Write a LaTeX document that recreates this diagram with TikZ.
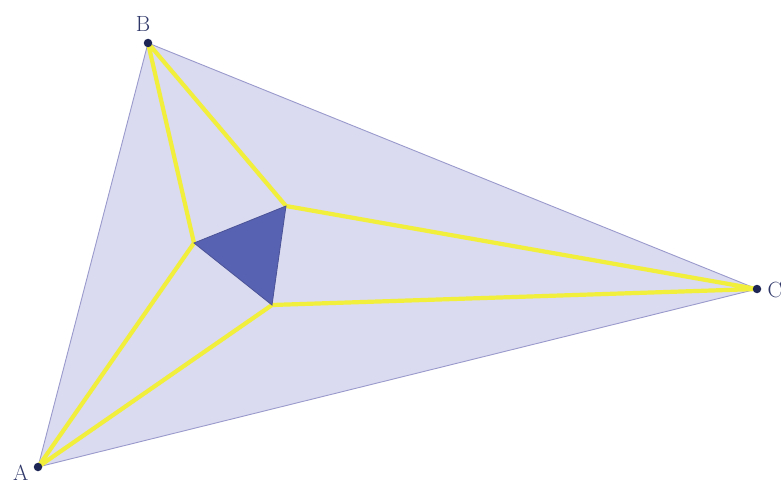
\documentclass[tikz,border=0pt]{standalone}
\usepackage{xcolor}
\usepackage{tikz}
\usetikzlibrary{positioning}
\definecolor{lavender}{HTML}{DADAF0}
\definecolor{edge}{HTML}{9A9ACC}
\definecolor{trisect}{HTML}{F2EE3C}
\definecolor{morley}{HTML}{5862B2}
\definecolor{navy}{HTML}{1E2656}
\definecolor{labelc}{HTML}{2E3768}
\begin{document}
\begin{tikzpicture}[
          x=1pt,y=-1pt,
          every node/.style={font=\fontsize{22}{26}\selectfont,text=labelc,inner sep=0pt},
          vert/.style={circle,fill=navy,inner sep=0pt,minimum size=8.5pt},
          tri/.style={draw=edge,line width=0.9pt,fill=lavender},
          ray/.style={draw=trisect,line width=4.2pt,line cap=round,line join=round},
          inner/.style={draw=morley!85!black,line width=0.8pt,fill=morley},
      ]
        \useasboundingbox (0,0) rectangle (781,487);
        % main triangle
        \coordinate (A) at (38,467);
        \coordinate (B) at (148,43);
        \coordinate (C) at (757,289);
        % Morley points
        \coordinate (P) at (194,243);
        \coordinate (Q) at (286,206);
        \coordinate (R) at (272,305);
        \filldraw[tri] (A) -- (B) -- (C) -- cycle;
        \draw[ray] (B) -- (P) -- (A) -- (R) -- (C) -- (Q) -- cycle;
        \filldraw[inner] (P) -- (Q) -- (R) -- cycle;
        \node[vert] (a) at (A) {};
        \node[vert] (b) at (B) {};
        \node[vert] (c) at (C) {};
        \node[left=5pt of a,yshift=-6pt] (la) {A};
        \node[above=7pt of b,xshift=-5pt] (lb) {B};
        \node[right=6pt of c,yshift=-1pt] (lc) {C};
      \end{tikzpicture}
\end{document}
